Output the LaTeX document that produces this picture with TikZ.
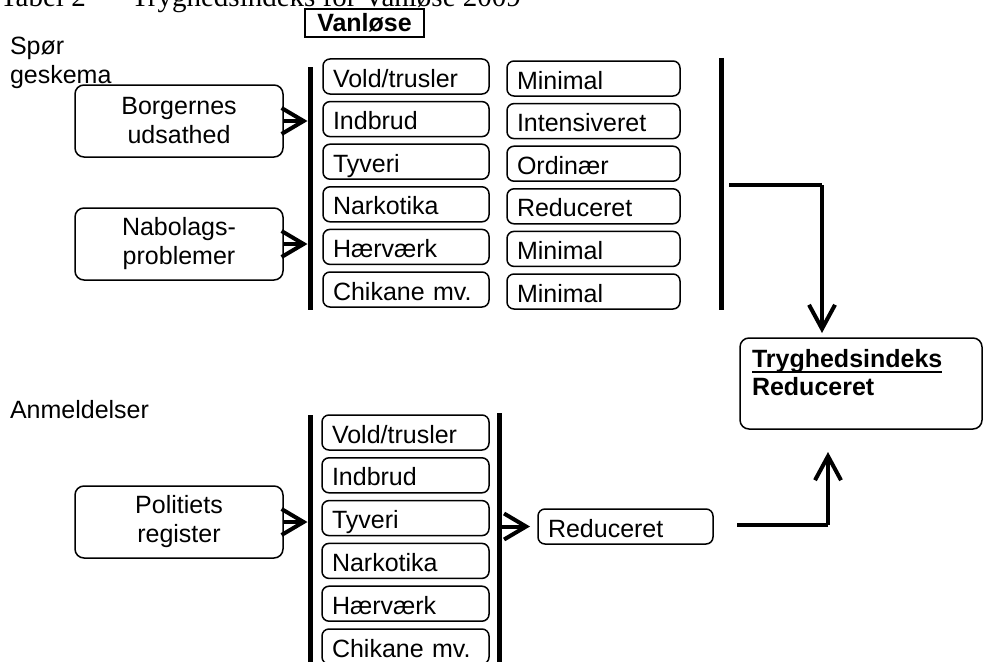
\documentclass[tikz,border=0pt]{standalone}
\usepackage{fontspec}
\setmainfont{Liberation Sans}
\newfontfamily\titleserif{Liberation Serif}
\usetikzlibrary{arrows.meta,calc}
\newcommand\ulbox[1]{\setbox0\hbox{#1}\rlap{\rule[-6pt]{\wd0}{2.2pt}}\box0}
\begin{document}
\begin{tikzpicture}[x=1pt,y=-1pt,
  every node/.style={font=\fontsize{25}{29}\selectfont, inner sep=0pt, outer sep=0pt},
  box/.style={draw, line width=1.5pt, rounded corners=9pt},
  catbox/.style={box, rounded corners=7pt, anchor=base west, inner xsep=10pt, inner ysep=2pt,
     text height=26pt, text depth=5pt, align=left},
  srcbox/.style={box, minimum width=208pt, minimum height=72pt, align=center},
  bar/.style={line width=5pt},
  conn/.style={line width=4pt},
  chev/.style={conn, -{Straight Barb[length=22pt, width=26pt, line width=4pt]}},
  bigarr/.style={conn, -{Straight Barb[length=24pt, width=26pt, line width=4pt]}}
]
\useasboundingbox (0,0) rectangle (984,661);

% title (cut off at top, as in the reference)
\node[anchor=base west, font=\titleserif\fontsize{29}{32}\selectfont] (title) at (0,7)
  {Tabel 2\hspace{15.5pt}–\hspace{15.5pt}Tryghedsindeks for Vanløse 2009};

% Vanlose header
\node[draw, line width=1.5pt, minimum width=119pt, minimum height=28pt, font=\bfseries\fontsize{25}{29}\selectfont]
  (vanlose) at (364.5,23) {Vanløse};

% side labels
\node[anchor=base west] (spor1) at (10,55) {Spør};
\node[anchor=base west] (spor2) at (10,83) {geskema};
\node[anchor=base west] (anm) at (10,418) {Anmeldelser};

% source boxes
\node[srcbox] (borg) at (179,121) {Borgernes\\udsathed};
\node[srcbox] (nabo) at (179,244) {Nabolags-\\problemer};
\node[srcbox] (poli) at (179,522) {Politiets\\register};

% bars
\coordinate (aT) at (310,67);  \coordinate (aB) at (310,310);
\coordinate (bT) at (721,58);  \coordinate (bB) at (721,310);
\coordinate (cT) at (310,415); \coordinate (cB) at (310,670);
\coordinate (dT) at (499,413); \coordinate (dB) at (499,670);
\draw[bar] (aT) -- (aB);
\draw[bar] (bT) -- (bB);
\draw[bar] (cT) -- (cB);
\draw[bar] (dT) -- (dB);

% top categories
\foreach \t [count=\i] in {Vold/trusler,Indbrud,Tyveri,Narkotika,Hærværk,Chikane mv.}
  \node[catbox, text width=146pt] (a\i) at (323,{87+42.6*(\i-1)}) {\t};
\foreach \t [count=\i] in {Minimal,Intensiveret,Ordinær,Reduceret,Minimal,Minimal}
  \node[catbox, text width=153pt] (m\i) at (507,{89+42.6*(\i-1)}) {\t};

% bottom categories
\foreach \t [count=\i] in {Vold/trusler,Indbrud,Tyveri,Narkotika,Hærværk,Chikane mv.}
  \node[catbox, text width=147pt] (b\i) at (322,{443+42.8*(\i-1)}) {\t};

\node[catbox, text width=155pt] (red) at (538,537) {Reduceret};

% result box
\node[box, anchor=north west, minimum width=242pt, minimum height=91pt] (tryg) at (740,338) {};
\node[anchor=base west, font=\bfseries\fontsize{25}{29}\selectfont] (trygt) at (752,367) {\ulbox{Tryghedsindeks}};
\node[anchor=base west, font=\bfseries\fontsize{25}{29}\selectfont] (trygr) at (752,395) {Reduceret};

% input chevrons
\draw[chev] (borg.east) -- (borg.east -| 307.5,0);
\draw[chev] (nabo.east) -- (nabo.east -| 307.5,0);
\draw[chev] (poli.east) -- (poli.east -| 307.5,0);
\draw[chev] (501.5,0 |- red.west) -- ([xshift=-8pt]red.west);

% connectors to result
\coordinate (k1) at (729,185);
\coordinate (k2) at (822,185);
\draw[conn] (k1) -- (k2);
\draw[bigarr, shorten >=5pt] (k2) -- (k2 |- tryg.north);
\coordinate (k3) at (737,525);
\coordinate (k4) at (828,525);
\draw[conn] (k3) -- (k4);
\draw[bigarr, shorten >=23pt] (k4) -- (k4 |- tryg.south);
\end{tikzpicture}
\end{document}
